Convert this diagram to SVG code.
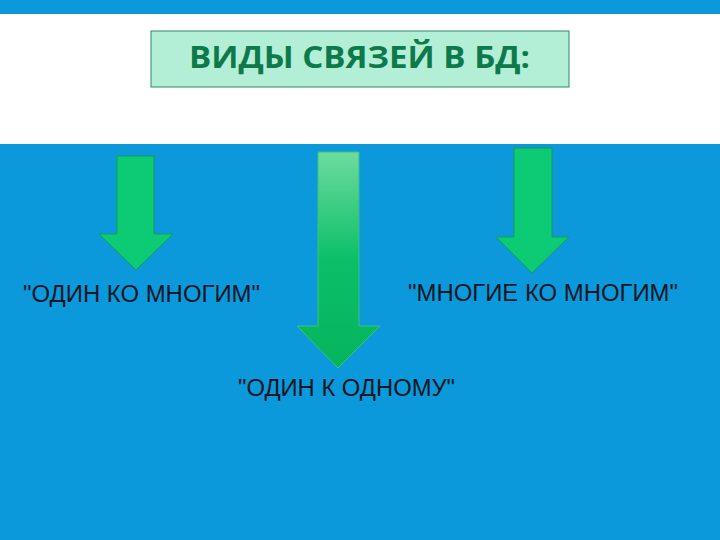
<svg xmlns="http://www.w3.org/2000/svg" width="720" height="540" viewBox="0 0 720 540">
  <style>
    .arrow { fill: #0dcb74; stroke: #1a9a5a; stroke-width: 1; }
    .label { font-family: "Liberation Sans", Arial, sans-serif; font-size: 23px; fill: #0b1624; }
    .title { font-family: "Open Sans", "Noto Sans", sans-serif; font-weight: bold; font-size: 31px; fill: #0e7a4c; }
  </style>
  <defs>
    <linearGradient id="g2" x1="0" y1="0" x2="0" y2="1">
      <stop offset="0" stop-color="#6ddc9e"/>
      <stop offset="0.5" stop-color="#0bbf66"/>
      <stop offset="1" stop-color="#06b45e"/>
    </linearGradient>
  </defs>
  <rect width="720" height="540" fill="#0b99db"/>
  <rect x="0" y="14" width="720" height="130" fill="#ffffff"/>

  <g id="title">
    <rect x="151" y="31" width="418" height="56" fill="#b3efd6" stroke="#2a8a60" stroke-width="1"/>
    <text class="title" x="189" y="68" textLength="341" lengthAdjust="spacingAndGlyphs">ВИДЫ СВЯЗЕЙ В БД:</text>
  </g>

  <g id="connectors">
    <polygon class="arrow" points="117,156 154,156 154,234 173,234 136,270 99,234 117,234"/>
    <polygon points="318,152 359,152 359,326 380,326 338,368 297,326 318,326" fill="url(#g2)" stroke="#3fbf80" stroke-width="1"/>
    <polygon class="arrow" points="514,148 552,148 552,237 569,237 532,273 496,237 514,237"/>
  </g>

  <g id="one-to-many">
    <text class="label" x="23" y="302" textLength="237" lengthAdjust="spacingAndGlyphs">"ОДИН КО МНОГИМ"</text>
  </g>
  <g id="many-to-many">
    <text class="label" x="408" y="301" textLength="270" lengthAdjust="spacingAndGlyphs">"МНОГИЕ КО МНОГИМ"</text>
  </g>
  <g id="one-to-one">
    <text class="label" x="238" y="396" textLength="217" lengthAdjust="spacingAndGlyphs">"ОДИН К ОДНОМУ"</text>
  </g>
</svg>
